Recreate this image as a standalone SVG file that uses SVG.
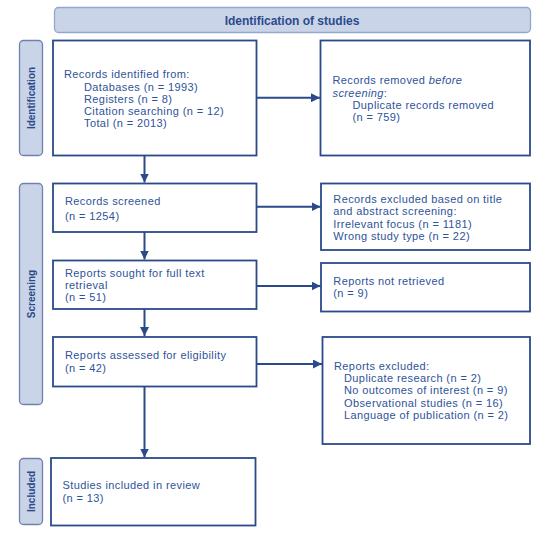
<svg xmlns="http://www.w3.org/2000/svg" width="550" height="536" viewBox="0 0 550 536">
<style>
.box{fill:#ffffff;stroke:#2b4a8b;stroke-width:1.8}
.phase{fill:#c9d4e8;stroke:#6f82ad;stroke-width:1.3}
.hdr{fill:#c9d4e8;stroke:#96a7cc;stroke-width:1.3}
.t{font-family:"Liberation Sans",Arial,sans-serif;font-size:11px;letter-spacing:0.4px;fill:#2e539a}
.pl{font-family:"Liberation Sans",Arial,sans-serif;font-size:10px;font-weight:bold;fill:#2b4a8b;text-anchor:middle}
.ht{font-family:"Liberation Sans",Arial,sans-serif;font-size:12px;font-weight:bold;fill:#2b4a8b;text-anchor:middle}
.c{stroke:#2b4a8b;stroke-width:2;fill:none;marker-end:url(#ah)}
</style>
<defs>
<marker id="ah" markerUnits="userSpaceOnUse" markerWidth="9" markerHeight="9" viewBox="0 0 10 10" refX="10" refY="5" orient="auto">
<path d="M0,0 L10,5 L0,10 z" fill="#2b4a8b"/>
</marker>
</defs>
<rect width="550" height="536" fill="#ffffff"/>
<g id="header">
<rect class="hdr" x="54.5" y="7.5" width="476" height="25" rx="4"/>
<text class="ht" x="292" y="24.5">Identification of studies</text>
</g>
<g id="phase-identification">
<rect class="phase" x="19.5" y="40.5" width="23" height="115" rx="4"/>
<text class="pl" transform="translate(34.5,98) rotate(-90)">Identification</text>
</g>
<g id="phase-screening">
<rect class="phase" x="19.5" y="183.5" width="23" height="221" rx="4"/>
<text class="pl" transform="translate(34.5,294) rotate(-90)">Screening</text>
</g>
<g id="phase-included">
<rect class="phase" x="19.5" y="458.5" width="23" height="66" rx="4"/>
<text class="pl" transform="translate(34.5,491.5) rotate(-90)">Included</text>
</g>
<g id="records-identified">
<rect class="box" x="53" y="40.5" width="203.5" height="115"/>
<text class="t" x="64" y="78.3">Records identified from:</text>
<text class="t" x="84" y="90.5">Databases (n = 1993)</text>
<text class="t" x="84" y="102.8">Registers (n = 8)</text>
<text class="t" x="84" y="115.1">Citation searching (n = 12)</text>
<text class="t" x="84" y="127.4">Total (n = 2013)</text>
</g>
<g id="records-removed">
<rect class="box" x="320.5" y="40.5" width="209.5" height="115"/>
<text class="t" x="332.5" y="84.3">Records removed <tspan font-style="italic">before</tspan></text>
<text class="t" x="332.5" y="96.5" font-style="italic">screening<tspan font-style="normal">:</tspan></text>
<text class="t" x="352.5" y="108.8">Duplicate records removed</text>
<text class="t" x="352.5" y="121">(n = 759)</text>
</g>
<g id="records-screened">
<rect class="box" x="53" y="183.5" width="203.5" height="48.5"/>
<text class="t" x="65" y="205.3">Records screened</text>
<text class="t" x="65" y="219.5">(n = 1254)</text>
</g>
<g id="records-excluded">
<rect class="box" x="321" y="183.5" width="209" height="66.5"/>
<text class="t" x="333.3" y="203">Records excluded based on title</text>
<text class="t" x="333.3" y="215.3">and abstract screening:</text>
<text class="t" x="333.3" y="227.8">Irrelevant focus (n = 1181)</text>
<text class="t" x="333.3" y="240.3">Wrong study type (n = 22)</text>
</g>
<g id="reports-sought">
<rect class="box" x="53" y="260.5" width="203.5" height="48.5"/>
<text class="t" x="65" y="277.2">Reports sought for full text</text>
<text class="t" x="65" y="289.2">retrieval</text>
<text class="t" x="65" y="301.4">(n = 51)</text>
</g>
<g id="reports-not-retrieved">
<rect class="box" x="321" y="263" width="209" height="48.5"/>
<text class="t" x="333.3" y="285">Reports not retrieved</text>
<text class="t" x="333.3" y="297.2">(n = 9)</text>
</g>
<g id="reports-assessed">
<rect class="box" x="53" y="337" width="203.5" height="49.5"/>
<text class="t" x="65" y="359.3">Reports assessed for eligibility</text>
<text class="t" x="65" y="371.6">(n = 42)</text>
</g>
<g id="reports-excluded">
<rect class="box" x="322.5" y="337" width="207.5" height="107"/>
<text class="t" x="334" y="370">Reports excluded:</text>
<text class="t" x="344" y="382.2">Duplicate research (n = 2)</text>
<text class="t" x="344" y="394.4">No outcomes of interest (n = 9)</text>
<text class="t" x="344" y="406.6">Observational studies (n = 16)</text>
<text class="t" x="344" y="418.8">Language of publication (n = 2)</text>
</g>
<g id="studies-included">
<rect class="box" x="51" y="458" width="204.5" height="67.5"/>
<text class="t" x="62.5" y="489.3">Studies included in review</text>
<text class="t" x="62.5" y="502">(n = 13)</text>
</g>
<g id="connectors">
<line class="c" x1="257" y1="97.7" x2="320" y2="97.7"/>
<line class="c" x1="144.5" y1="155.5" x2="144.5" y2="182.5"/>
<line class="c" x1="257" y1="206.7" x2="320.5" y2="206.7"/>
<line class="c" x1="144.5" y1="232" x2="144.5" y2="259.5"/>
<line class="c" x1="257" y1="286" x2="320.5" y2="286"/>
<line class="c" x1="144.5" y1="309" x2="144.5" y2="336"/>
<line class="c" x1="257" y1="364" x2="322" y2="364"/>
<line class="c" x1="144.5" y1="386.5" x2="144.5" y2="457.5"/>
</g>
</svg>
